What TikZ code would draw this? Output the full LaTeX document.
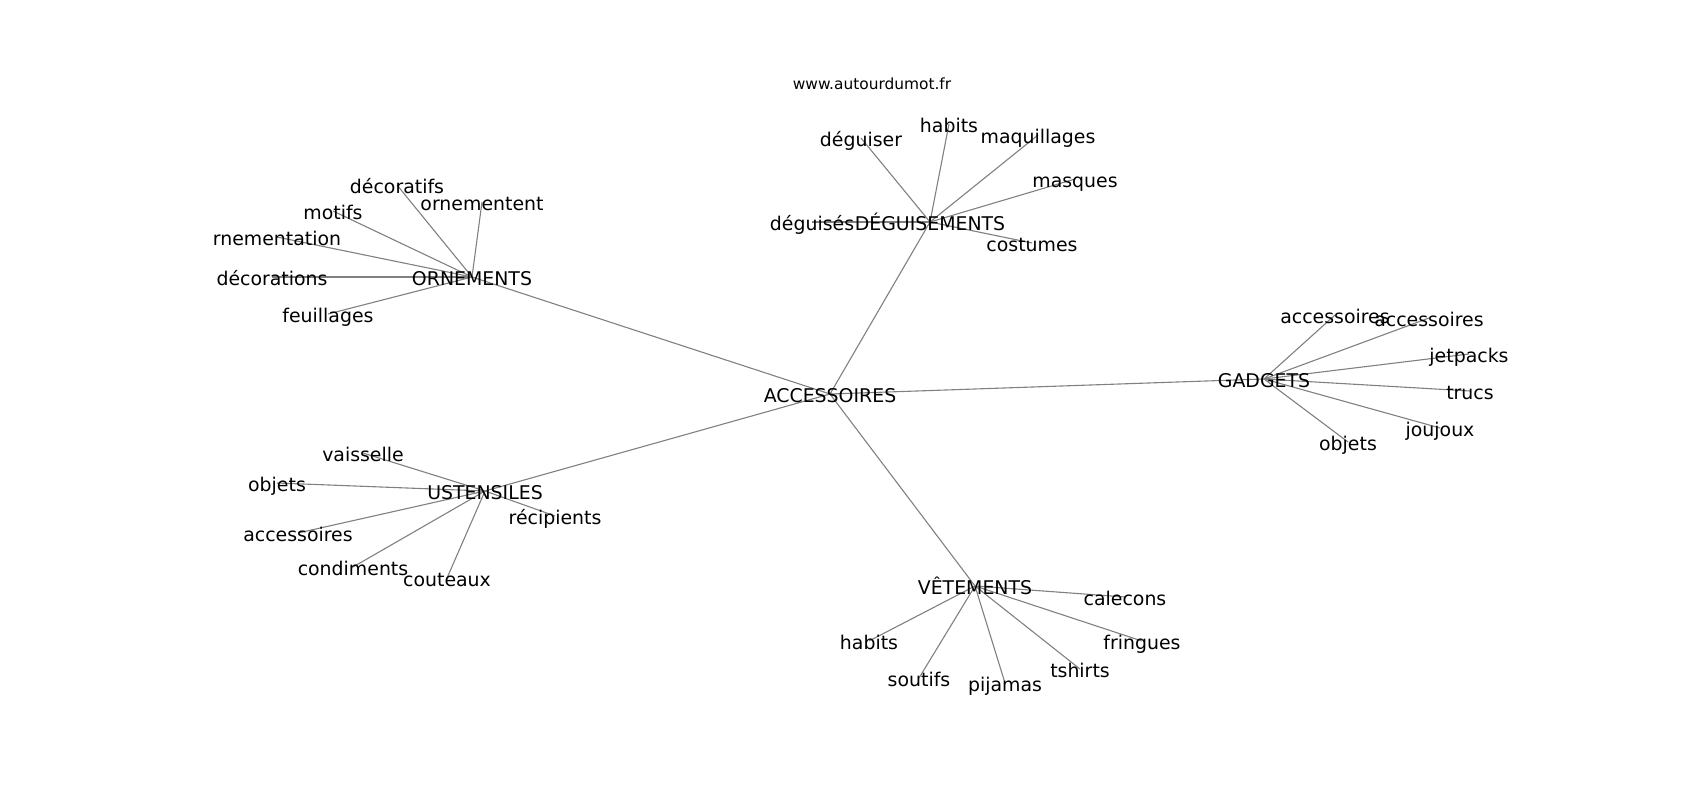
\documentclass[tikz,border=0pt]{standalone}
\usepackage{fontspec}
\setmainfont{DejaVu Sans}
\usetikzlibrary{backgrounds}
\tikzset{
  lbl/.style={inner sep=0pt, outer sep=0pt, text height=17pt, text depth=0pt, anchor=center,
    font=\fontsize{18.9}{22}\selectfont, text=black},
  ttl/.style={inner sep=0pt, text height=13pt, text depth=0pt, anchor=center,
    font=\fontsize{15.4}{18}\selectfont, text=black},
  edge/.style={draw=black!50, line width=1.1pt}
}
\begin{document}
\begin{tikzpicture}[x=1pt,y=-1pt]
\useasboundingbox (0,0) rectangle (1700,800);
\node[ttl] (title) at (872,83) {www.autourdumot.fr};
% hubs
\node[lbl] (acc) at (830,394) {ACCESSOIRES};
\node[lbl] (orn) at (472,277) {ORNEMENTS};
\node[lbl] (deg) at (930,222) {DÉGUISEMENTS};
\node[lbl] (gad) at (1264,379) {GADGETS};
\node[lbl] (ust) at (485,491) {USTENSILES};
\node[lbl] (vet) at (975,586) {VÊTEMENTS};
% ornements
\node[lbl] (o1) at (397,185) {décoratifs};
\node[lbl] (o2) at (482,202) {ornementent};
\node[lbl] (o3) at (333,211) {motifs};
\node[lbl] (o4) at (277,237) {rnementation};
\node[lbl] (o5) at (272,277) {décorations};
\node[lbl] (o6) at (328,314) {feuillages};
% deguisements
\node[lbl] (d1) at (812,222) {déguisés};
\node[lbl] (d2) at (861,138) {déguiser};
\node[lbl] (d3) at (949,124) {habits};
\node[lbl] (d4) at (1038,135) {maquillages};
\node[lbl] (d5) at (1075,179) {masques};
\node[lbl] (d6) at (1032,243) {costumes};
% gadgets
\node[lbl] (g1) at (1335,315) {accessoires};
\node[lbl] (g2) at (1429,318) {accessoires};
\node[lbl] (g3) at (1469,354) {jetpacks};
\node[lbl] (g4) at (1470,391) {trucs};
\node[lbl] (g5) at (1440,428) {joujoux};
\node[lbl] (g6) at (1348,442) {objets};
% ustensiles
\node[lbl] (u1) at (363,453) {vaisselle};
\node[lbl] (u2) at (277,483) {objets};
\node[lbl] (u3) at (298,533) {accessoires};
\node[lbl] (u4) at (353,567) {condiments};
\node[lbl] (u5) at (447,578) {couteaux};
\node[lbl] (u6) at (555,516) {récipients};
% vetements
\node[lbl] (v1) at (1125,597) {calecons};
\node[lbl] (v2) at (869,641) {habits};
\node[lbl] (v3) at (919,678) {soutifs};
\node[lbl] (v4) at (1005,683) {pijamas};
\node[lbl] (v5) at (1080,669) {tshirts};
\node[lbl] (v6) at (1142,641) {fringues};
\begin{pgfonlayer}{background}
\foreach \h in {orn,deg,gad,ust,vet}
  \draw[edge] (acc.center) -- (\h.center);
\foreach \c in {o1,o2,o3,o4,o5,o6}
  \draw[edge] (orn.center) -- (\c.center);
\foreach \c in {d1,d2,d3,d4,d5,d6}
  \draw[edge] (deg.center) -- (\c.center);
\foreach \c in {g1,g2,g3,g4,g5,g6}
  \draw[edge] (gad.center) -- (\c.center);
\foreach \c in {u1,u2,u3,u4,u5,u6}
  \draw[edge] (ust.center) -- (\c.center);
\foreach \c in {v1,v2,v3,v4,v5,v6}
  \draw[edge] (vet.center) -- (\c.center);
\end{pgfonlayer}
\end{tikzpicture}
\end{document}
